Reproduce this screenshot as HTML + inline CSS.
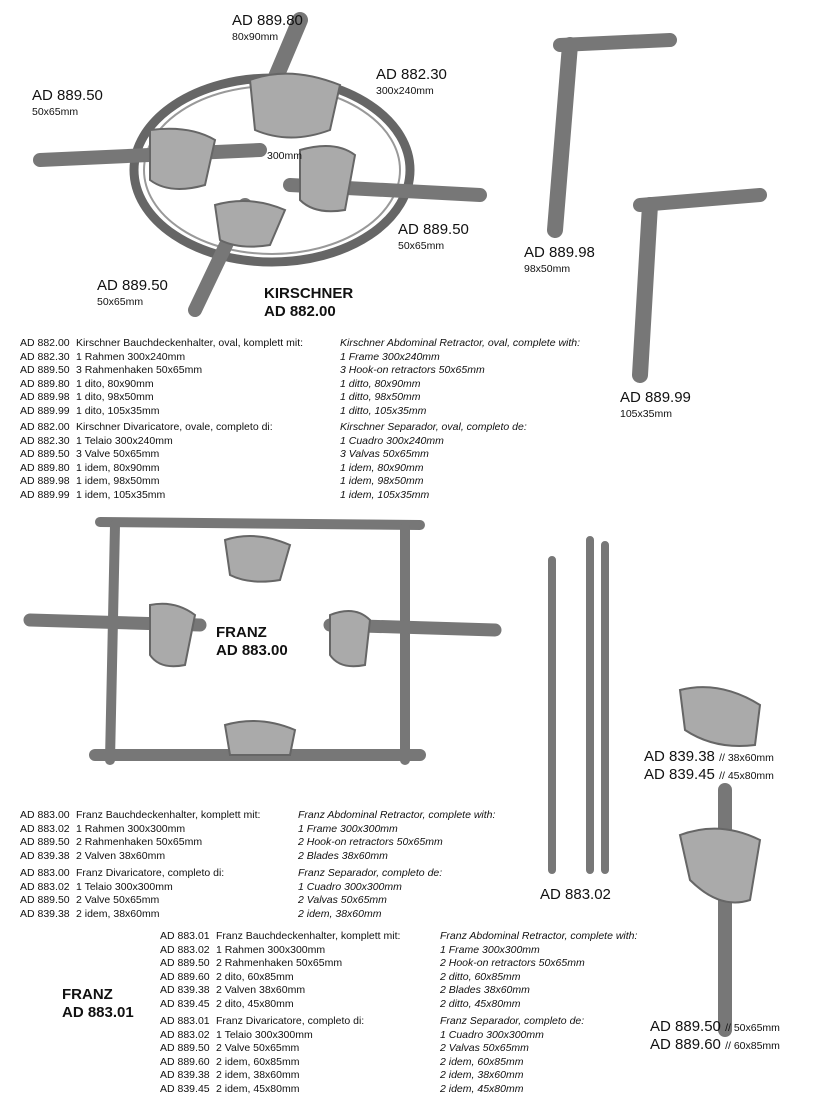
<!DOCTYPE html>
<html><head><meta charset="utf-8"><style>
body{margin:0;width:826px;height:1101px;background:#fff;position:relative;overflow:hidden;font-family:"Liberation Sans",Arial,sans-serif;color:#111}
.a{position:absolute;white-space:nowrap}
.c{font-size:15px}
.s{font-size:10.5px}
.b{font-weight:bold;font-size:15px;line-height:18px}
.t{position:absolute;font-size:10.5px;line-height:13.6px;white-space:pre}
.i{font-style:italic}
svg{position:absolute;left:0;top:0}
</style></head><body>
<svg width="826" height="1101">
<g fill="none" stroke="#777" stroke-linecap="round">
<ellipse cx="272" cy="170" rx="138" ry="92" stroke-width="9" stroke="#666"/>
<ellipse cx="272" cy="170" rx="128" ry="84" stroke-width="2" stroke="#999"/>
<path d="M300 20 L262 110" stroke-width="16"/>
<path d="M40 160 L260 150" stroke-width="14"/>
<path d="M290 185 L480 195" stroke-width="14"/>
<path d="M245 205 L195 310" stroke-width="14"/>
<path d="M570 45 L555 230" stroke-width="16"/>
<path d="M560 45 L670 40" stroke-width="14"/>
<path d="M650 205 L640 375" stroke-width="16"/>
<path d="M640 205 L760 195" stroke-width="14"/>
<path d="M100 522 L420 525" stroke-width="10"/>
<path d="M115 525 L110 760 M405 528 L405 760" stroke-width="10"/>
<path d="M95 755 L420 755" stroke-width="12"/>
<path d="M30 620 L200 625 M330 625 L495 630" stroke-width="13"/>
<path d="M552 560 L552 870 M590 540 L590 870 M605 545 L605 870" stroke-width="8"/>
<path d="M725 790 L725 1030" stroke-width="14"/>
</g>
<g fill="#aaa" stroke="#666" stroke-width="2">
<path d="M250 80 Q290 65 340 85 L330 130 Q290 145 255 130 Z"/>
<path d="M150 130 Q190 125 215 140 L205 185 Q170 195 150 180 Z"/>
<path d="M300 150 Q335 140 355 155 L345 210 Q315 215 300 200 Z"/>
<path d="M215 205 Q250 195 285 210 L270 245 Q240 250 220 240 Z"/>
<path d="M225 540 Q255 530 290 545 L280 580 Q250 585 230 575 Z"/>
<path d="M150 605 Q175 600 195 615 L185 665 Q160 670 150 655 Z"/>
<path d="M330 615 Q355 605 370 620 L365 665 Q340 670 330 655 Z"/>
<path d="M225 725 Q260 715 295 730 L290 755 L230 755 Z"/>
<path d="M680 690 Q720 680 760 705 L755 745 Q715 750 685 730 Z"/>
<path d="M680 835 Q720 820 760 840 L750 900 Q720 910 690 880 Z"/>
</g>
</svg>
<div class="a c" style="left:232px;top:12px">AD 889.80</div><div class="a s" style="left:232px;top:31px">80x90mm</div>
<div class="a c" style="left:376px;top:66px">AD 882.30</div><div class="a s" style="left:376px;top:85px">300x240mm</div>
<div class="a c" style="left:32px;top:87px">AD 889.50</div><div class="a s" style="left:32px;top:106px">50x65mm</div>
<div class="a s" style="left:267px;top:150px">300mm</div>
<div class="a c" style="left:398px;top:221px">AD 889.50</div><div class="a s" style="left:398px;top:240px">50x65mm</div>
<div class="a c" style="left:97px;top:277px">AD 889.50</div><div class="a s" style="left:97px;top:296px">50x65mm</div>
<div class="a b" style="left:264px;top:285px">KIRSCHNER<br>AD 882.00</div>
<div class="a c" style="left:524px;top:244px">AD 889.98</div><div class="a s" style="left:524px;top:263px">98x50mm</div>
<div class="a c" style="left:620px;top:389px">AD 889.99</div><div class="a s" style="left:620px;top:408px">105x35mm</div>

<div class="t" style="left:20px;top:337px">AD 882.00
AD 882.30
AD 889.50
AD 889.80
AD 889.98
AD 889.99</div>
<div class="t" style="left:76px;top:337px">Kirschner Bauchdeckenhalter, oval, komplett mit:
1 Rahmen 300x240mm
3 Rahmenhaken 50x65mm
1 dito, 80x90mm
1 dito, 98x50mm
1 dito, 105x35mm</div>
<div class="t i" style="left:340px;top:337px">Kirschner Abdominal Retractor, oval, complete with:
1 Frame 300x240mm
3 Hook-on retractors 50x65mm
1 ditto, 80x90mm
1 ditto, 98x50mm
1 ditto, 105x35mm</div>
<div class="t" style="left:20px;top:421px">AD 882.00
AD 882.30
AD 889.50
AD 889.80
AD 889.98
AD 889.99</div>
<div class="t" style="left:76px;top:421px">Kirschner Divaricatore, ovale, completo di:
1 Telaio 300x240mm
3 Valve 50x65mm
1 idem, 80x90mm
1 idem, 98x50mm
1 idem, 105x35mm</div>
<div class="t i" style="left:340px;top:421px">Kirschner Separador, oval, completo de:
1 Cuadro 300x240mm
3 Valvas 50x65mm
1 idem, 80x90mm
1 idem, 98x50mm
1 idem, 105x35mm</div>

<div class="a b" style="left:216px;top:624px">FRANZ<br>AD 883.00</div>
<div class="a c" style="left:644px;top:748px">AD 839.38 <span class="s">// 38x60mm</span></div>
<div class="a c" style="left:644px;top:766px">AD 839.45 <span class="s">// 45x80mm</span></div>
<div class="a c" style="left:540px;top:886px">AD 883.02</div>

<div class="t" style="left:20px;top:809px">AD 883.00
AD 883.02
AD 889.50
AD 839.38</div>
<div class="t" style="left:76px;top:809px">Franz Bauchdeckenhalter, komplett mit:
1 Rahmen 300x300mm
2 Rahmenhaken 50x65mm
2 Valven 38x60mm</div>
<div class="t i" style="left:298px;top:809px">Franz Abdominal Retractor, complete with:
1 Frame 300x300mm
2 Hook-on retractors 50x65mm
2 Blades 38x60mm</div>
<div class="t" style="left:20px;top:867px">AD 883.00
AD 883.02
AD 889.50
AD 839.38</div>
<div class="t" style="left:76px;top:867px">Franz Divaricatore, completo di:
1 Telaio 300x300mm
2 Valve 50x65mm
2 idem, 38x60mm</div>
<div class="t i" style="left:298px;top:867px">Franz Separador, completo de:
1 Cuadro 300x300mm
2 Valvas 50x65mm
2 idem, 38x60mm</div>

<div class="a b" style="left:62px;top:986px">FRANZ<br>AD 883.01</div>
<div class="t" style="left:160px;top:930px">AD 883.01
AD 883.02
AD 889.50
AD 889.60
AD 839.38
AD 839.45</div>
<div class="t" style="left:216px;top:930px">Franz Bauchdeckenhalter, komplett mit:
1 Rahmen 300x300mm
2 Rahmenhaken 50x65mm
2 dito, 60x85mm
2 Valven 38x60mm
2 dito, 45x80mm</div>
<div class="t i" style="left:440px;top:930px">Franz Abdominal Retractor, complete with:
1 Frame 300x300mm
2 Hook-on retractors 50x65mm
2 ditto, 60x85mm
2 Blades 38x60mm
2 ditto, 45x80mm</div>
<div class="t" style="left:160px;top:1015px">AD 883.01
AD 883.02
AD 889.50
AD 889.60
AD 839.38
AD 839.45</div>
<div class="t" style="left:216px;top:1015px">Franz Divaricatore, completo di:
1 Telaio 300x300mm
2 Valve 50x65mm
2 idem, 60x85mm
2 idem, 38x60mm
2 idem, 45x80mm</div>
<div class="t i" style="left:440px;top:1015px">Franz Separador, completo de:
1 Cuadro 300x300mm
2 Valvas 50x65mm
2 idem, 60x85mm
2 idem, 38x60mm
2 idem, 45x80mm</div>
<div class="a c" style="left:650px;top:1018px">AD 889.50 <span class="s">// 50x65mm</span></div>
<div class="a c" style="left:650px;top:1036px">AD 889.60 <span class="s">// 60x85mm</span></div>
</body></html>
